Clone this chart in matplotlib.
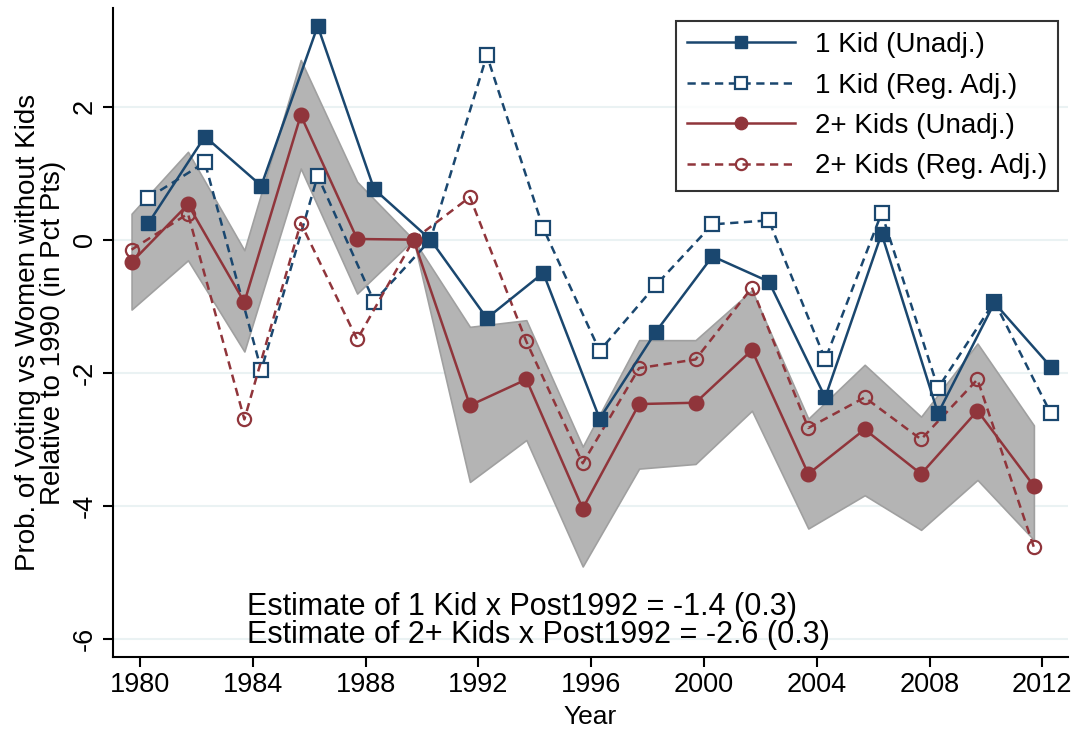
import matplotlib.pyplot as plt
import numpy as np

years = np.arange(1980, 2013, 2)

kid1_unadj = [0.25, 1.55, 0.81, 3.21, 0.76, 0.0, -1.18, -0.50, -2.69, -1.38,
              -0.25, -0.63, -2.37, 0.09, -2.61, -0.95, -1.91]
kid1_adj = [0.63, 1.16, -1.96, 0.96, -0.93, 0.0, 2.77, 0.17, -1.67, -0.68,
            0.23, 0.29, -1.80, 0.40, -2.23, -0.93, -2.61]
kid2_unadj = [-0.34, 0.53, -0.94, 1.87, 0.01, 0.0, -2.49, -2.10, -4.04, -2.47,
              -2.45, -1.66, -3.52, -2.85, -3.52, -2.57, -3.70]
kid2_adj = [-0.15, 0.39, -2.70, 0.25, -1.50, 0.0, 0.64, -1.53, -3.36, -1.93,
            -1.80, -0.72, -2.83, -2.37, -3.00, -2.10, -4.62]
kid2_hi = [0.39, 1.32, -0.16, 2.70, 0.87, 0.0, -1.31, -1.21, -3.11, -1.51,
           -1.51, -0.76, -2.69, -1.88, -2.66, -1.56, -2.79]
kid2_lo = [-1.05, -0.31, -1.68, 1.07, -0.81, 0.0, -3.64, -3.01, -4.91, -3.44,
           -3.37, -2.57, -4.34, -3.84, -4.36, -3.61, -4.51]

est_lines = ["Estimate of 1 Kid x Post1992 = -1.4 (0.3)",
             "Estimate of 2+ Kids x Post1992 = -2.6 (0.3)"]

navy = "#1a476f"
maroon = "#90353b"
dash = (0, (3.3, 2.2))

plt.rcParams['font.family'] = ['Liberation Sans', 'DejaVu Sans']

fig = plt.figure(figsize=(10.79, 7.32), dpi=100)
ax = fig.add_axes([0.1047, 0.1025, 0.8851, 0.8865])

# 1 Kid series sit slightly right of the year, 2+ Kids slightly left
x1 = years + 0.3
x2 = years - 0.3

ax.fill_between(x2, kid2_lo, kid2_hi, color="#b4b4b4", edgecolor="#a0a0a0",
                linewidth=1.2, zorder=1)

ax.plot(x1, kid1_unadj, color=navy, lw=1.8, marker="s", ms=10.5,
        mfc=navy, mec=navy, label="1 Kid (Unadj.)", zorder=4)
ax.plot(x1, kid1_adj, color=navy, lw=1.8, ls=dash, marker="s", ms=9.5,
        mfc="white", mec=navy, mew=1.6, label="1 Kid (Reg. Adj.)", zorder=3)
ax.plot(x2, kid2_unadj, color=maroon, lw=1.8, marker="o", ms=10.5,
        mfc=maroon, mec=maroon, label="2+ Kids (Unadj.)", zorder=4)
ax.plot(x2, kid2_adj, color=maroon, lw=1.8, ls=dash, marker="o", ms=9.5,
        mfc="none", mec=maroon, mew=1.6, label="2+ Kids (Reg. Adj.)", zorder=3)

ax.set_xlim(1979.04, 2012.91)
ax.set_ylim(-6.27, 3.48)
ax.set_xticks(np.arange(1980, 2013, 4))
ax.set_yticks([-6, -4, -2, 0, 2])
ax.set_yticklabels(["-6", "-4", "-2", "0", "2"], rotation=90, va="center")
ax.grid(axis="y", color="#eaf2f3", lw=1.5)
ax.set_axisbelow(True)
for s in ["top", "right"]:
    ax.spines[s].set_visible(False)
for s in ["left", "bottom"]:
    ax.spines[s].set_linewidth(1.5)
ax.tick_params(labelsize=19.5, length=7, width=1.5, pad=4)

ax.set_xlabel("Year", fontsize=19, labelpad=5)
ax.set_ylabel("Prob. of Voting vs Women without Kids\nRelative to 1990 (in Pct Pts)",
              fontsize=20, labelpad=4, linespacing=0.95)

ax.text(1983.8, -5.52, est_lines[0], fontsize=22, va="center")
ax.text(1983.8, -5.94, est_lines[1], fontsize=22, va="center")

leg = ax.legend(loc="upper right", bbox_to_anchor=(0.9895, 0.98), fontsize=20,
                frameon=True, fancybox=False, edgecolor="black", handlelength=3.9,
                borderpad=0.4, labelspacing=0.52, handletextpad=0.7,
                markerscale=0.85, borderaxespad=0)
leg.get_frame().set_linewidth(1.5)

fig.savefig("out.png", dpi=100)
